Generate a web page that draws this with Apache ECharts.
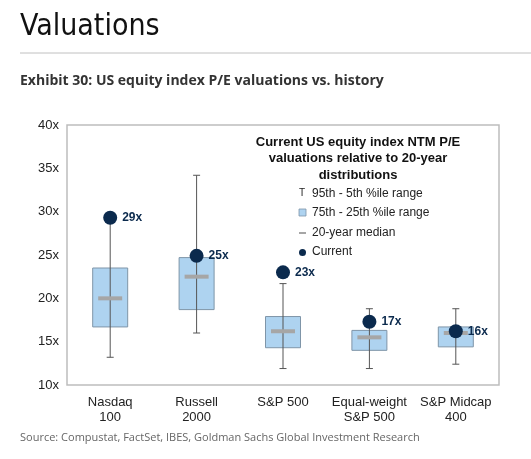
<!DOCTYPE html>
<html>
<head>
<meta charset="UTF-8" />
<script src="https://cdn.jsdelivr.net/npm/echarts@6/dist/echarts.min.js"></script>
<style>
  body { margin: 0; background: #fff; }
  #chart { width: 531px; height: 459px; }
</style>
</head>
<body>
<div id="chart"></div>
<script>
const categories = ['Nasdaq\n100', 'Russell\n2000', 'S&P 500', 'Equal-weight\nS&P 500', 'S&P Midcap\n400'];
const p5 = [13.2, 16.0, 11.9, 11.9, 12.4];
const p25 = [16.7, 18.7, 14.3, 14.0, 14.4];
const median = [20.0, 22.5, 16.2, 15.5, 16.0];
const p75 = [23.5, 24.7, 17.9, 16.3, 16.7];
const p95 = [29.3, 34.2, 21.7, 18.8, 18.8];
const current = [29.3, 24.9, 23.0, 17.3, 16.2];
const currentLabels = ['29x', '25x', '23x', '17x', '16x'];
const yTicks = [10, 15, 20, 25, 30, 35, 40];

const boxData = categories.map((c, i) => [i, p5[i], p25[i], median[i], p75[i], p95[i]]);

function renderBox(params, api) {
  const i = api.value(0);
  const x = api.coord([i, 0])[0];
  const yLo = api.coord([i, api.value(1)])[1];
  const yQ1 = api.coord([i, api.value(2)])[1];
  const yMed = api.coord([i, api.value(3)])[1];
  const yQ3 = api.coord([i, api.value(4)])[1];
  const yHi = api.coord([i, api.value(5)])[1];
  const w = 35;
  const cap = 7;
  const line = { stroke: '#555', lineWidth: 1 };
  return {
    type: 'group',
    children: [
      { type: 'rect', shape: { x: x - w / 2, y: yQ3, width: w, height: yQ1 - yQ3 },
        style: { fill: '#aed3f0', stroke: '#7f95a8', lineWidth: 1 } },
      { type: 'line', shape: { x1: x, y1: yHi, x2: x, y2: yLo }, style: line },
      { type: 'line', shape: { x1: x - cap / 2, y1: yHi, x2: x + cap / 2, y2: yHi }, style: line },
      { type: 'line', shape: { x1: x - cap / 2, y1: yLo, x2: x + cap / 2, y2: yLo }, style: line },
      { type: 'rect', shape: { x: x - 12, y: yMed - 2, width: 24, height: 4 },
        style: { fill: '#a6a6a6' } }
    ]
  };
}

const chart = echarts.init(document.getElementById('chart'));
chart.setOption({
  animation: false,
  grid: { left: 67, right: 32, top: 125, bottom: 74 },
  xAxis: {
    type: 'category',
    data: categories,
    axisLine: { show: false },
    axisTick: { show: false },
    axisLabel: { interval: 0, color: '#222', fontSize: 13, fontFamily: 'Arial', lineHeight: 15, margin: 10 }
  },
  yAxis: {
    type: 'value',
    min: 10, max: 40, interval: 5,
    axisLine: { show: false },
    axisTick: { show: false },
    splitLine: { show: false },
    axisLabel: { color: '#222', fontSize: 13, fontFamily: 'Arial', formatter: v => yTicks.includes(v) ? v + 'x' : '' }
  },
  graphic: [
    { type: 'text', left: 20, top: 12, style: { text: 'Valuations', font: '30px "Liberation Sans Narrow", "DejaVu Sans Condensed", sans-serif', fill: '#111' } },
    { type: 'line', shape: { x1: 20, y1: 53, x2: 531, y2: 53 }, style: { stroke: '#c0c0c0', lineWidth: 1 } },
    { type: 'text', left: 20, top: 74, style: { text: 'Exhibit 30: US equity index P/E valuations vs. history', font: 'bold 14px "Open Sans", sans-serif', fill: '#333' } },
    { type: 'rect', shape: { x: 67, y: 125, width: 432, height: 260 }, style: { fill: 'none', stroke: '#bdbdbd', lineWidth: 1.5 }, z: 10 },
    { type: 'text', x: 358, y: 134, style: { text: 'Current US equity index NTM P/E\nvaluations relative to 20-year\ndistributions', font: 'bold 13px Arial, sans-serif', fill: '#111', align: 'center', lineHeight: 16.5 } },
    { type: 'text', x: 299, y: 188, style: { text: 'T', font: '10px Arial', fill: '#222' } },
    { type: 'rect', shape: { x: 299, y: 209, width: 7, height: 7 }, style: { fill: '#aed3f0', stroke: '#7f95a8', lineWidth: 0.8 } },
    { type: 'line', shape: { x1: 299, y1: 233, x2: 306, y2: 233 }, style: { stroke: '#a6a6a6', lineWidth: 2 } },
    { type: 'circle', shape: { cx: 302.5, cy: 252.5, r: 3.5 }, style: { fill: '#0b2a4d' } },
    { type: 'text', x: 312, y: 188, style: { text: '95th - 5th %ile range', font: '12px Arial', fill: '#222' } },
    { type: 'text', x: 312, y: 207, style: { text: '75th - 25th %ile range', font: '12px Arial', fill: '#222' } },
    { type: 'text', x: 312, y: 227, style: { text: '20-year median', font: '12px Arial', fill: '#222' } },
    { type: 'text', x: 312, y: 246, style: { text: 'Current', font: '12px Arial', fill: '#222' } },
    { type: 'text', left: 20, top: 432, style: { text: 'Source: Compustat, FactSet, IBES, Goldman Sachs Global Investment Research', font: '11px "Open Sans", sans-serif', fill: '#666' } }
  ],
  series: [
    {
      type: 'custom',
      renderItem: renderBox,
      encode: { x: 0, y: [1, 2, 3, 4, 5] },
      data: boxData
    },
    {
      type: 'scatter',
      data: current.map((v, i) => [i, v]),
      symbolSize: 14,
      itemStyle: { color: '#0b2a4d', opacity: 1 },
      z: 5,
      label: {
        show: true,
        position: 'right',
        distance: 5,
        formatter: p => currentLabels[p.dataIndex],
        color: '#0b2a4d',
        fontWeight: 'bold',
        fontSize: 12,
        fontFamily: 'Arial'
      }
    }
  ]
});
</script>
</body>
</html>
